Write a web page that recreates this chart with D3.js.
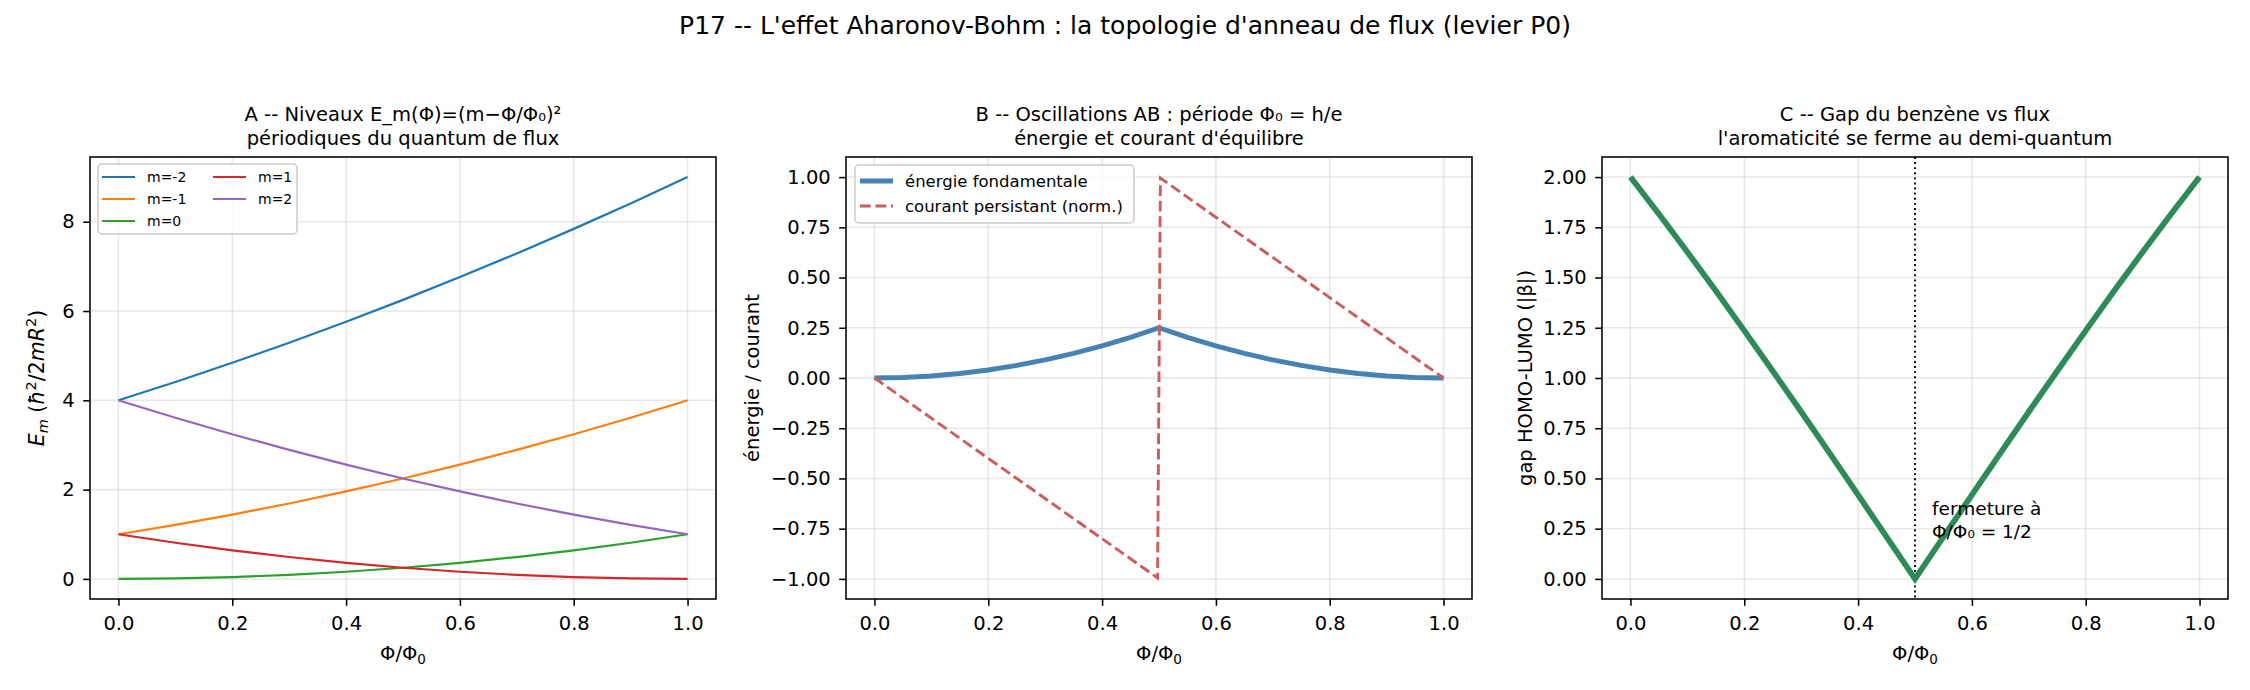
<!DOCTYPE html>
<html>
<head>
<meta charset="utf-8">
<script src="https://cdn.jsdelivr.net/npm/d3@7"></script>
<style>
  body { margin: 0; background: #fff; }
  svg { font-family: "DejaVu Sans", sans-serif; }
</style>
</head>
<body>
<div id="chart"></div>
<script>
// values
const phi = [0, 0.1, 0.2, 0.3, 0.4, 0.5, 0.6, 0.7, 0.8, 0.9, 1.0];
const levelMm2 = [4, 4.41, 4.84, 5.29, 5.76, 6.25, 6.76, 7.29, 7.84, 8.41, 9];
const levelMm1 = [1, 1.21, 1.44, 1.69, 1.96, 2.25, 2.56, 2.89, 3.24, 3.61, 4];
const levelM0 = [0, 0.01, 0.04, 0.09, 0.16, 0.25, 0.36, 0.49, 0.64, 0.81, 1];
const levelM1 = [1, 0.81, 0.64, 0.49, 0.36, 0.25, 0.16, 0.09, 0.04, 0.01, 0];
const levelM2 = [4, 3.61, 3.24, 2.89, 2.56, 2.25, 1.96, 1.69, 1.44, 1.21, 1];
const levelNames = ["m=-2", "m=-1", "m=0", "m=1", "m=2"];
const levelColors = ["#1f77b4", "#ff7f0e", "#2ca02c", "#d62728", "#9467bd"];

const phiFine = [0, 0.05, 0.1, 0.15, 0.2, 0.25, 0.3, 0.35, 0.4, 0.45, 0.5,
  0.55, 0.6, 0.65, 0.7, 0.75, 0.8, 0.85, 0.9, 0.95, 1.0];
const groundEnergy = [0, 0.0025, 0.01, 0.0225, 0.04, 0.0625, 0.09, 0.1225, 0.16, 0.2025, 0.25,
  0.2025, 0.16, 0.1225, 0.09, 0.0625, 0.04, 0.0225, 0.01, 0.0025, 0];
const currentPhi = [0, 0.4975, 0.5025, 1.0];
const currentNorm = [0, -0.995, 0.995, 0];

const gapBenzene = [2, 1.816, 1.627, 1.434, 1.236, 1.035, 0.832, 0.626, 0.418, 0.209, 0,
  0.209, 0.418, 0.626, 0.832, 1.035, 1.236, 1.434, 1.627, 1.816, 2];

const xTicks = [0, 0.2, 0.4, 0.6, 0.8, 1.0];
const yTicksA = [0, 2, 4, 6, 8];
const yTicksB = [-1, -0.75, -0.5, -0.25, 0, 0.25, 0.5, 0.75, 1];
const yTicksC = [0, 0.25, 0.5, 0.75, 1, 1.25, 1.5, 1.75, 2];

const W = 2250, H = 690;
const axTop = 157, axBottom = 599, axW = 626;
const fs = 19.5;

const svg = d3.select("#chart").append("svg")
  .attr("width", W)
  .attr("height", H)
  .style("background", "#fff");

svg.append("text")
  .attr("x", 1125)
  .attr("y", 34)
  .attr("text-anchor", "middle")
  .style("font-size", "25px")
  .text("P17 -- L'effet Aharonov-Bohm : la topologie d'anneau de flux (levier P0)");

function makePanel(left, yDomain, yTicks, yFmt, titles) {
  const x = d3.scaleLinear().domain([-0.05, 1.05]).range([left, left + axW]);
  const y = d3.scaleLinear().domain(yDomain).range([axBottom, axTop]);
  const g = svg.append("g");

  // grid
  g.append("g").selectAll("line").data(xTicks).join("line")
    .attr("x1", d => x(d)).attr("x2", d => x(d))
    .attr("y1", axTop).attr("y2", axBottom)
    .attr("stroke", "#b0b0b0").attr("stroke-opacity", 0.3).attr("stroke-width", 1.55);
  g.append("g").selectAll("line").data(yTicks).join("line")
    .attr("x1", left).attr("x2", left + axW)
    .attr("y1", d => y(d)).attr("y2", d => y(d))
    .attr("stroke", "#b0b0b0").attr("stroke-opacity", 0.3).attr("stroke-width", 1.55);

  const xAxis = g.append("g")
    .attr("transform", `translate(0,${axBottom})`)
    .call(d3.axisBottom(x).tickValues(xTicks).tickFormat(d3.format(".1f"))
      .tickSize(6.8).tickPadding(10));
  const yAxis = g.append("g")
    .attr("transform", `translate(${left},0)`)
    .call(d3.axisLeft(y).tickValues(yTicks).tickFormat(yFmt)
      .tickSize(6.8).tickPadding(8.5));
  [xAxis, yAxis].forEach(a => {
    a.select(".domain").remove();
    a.selectAll(".tick line").attr("stroke", "#000").attr("stroke-width", 1.55);
    a.selectAll(".tick text")
      .attr("fill", "#000")
      .style("font-size", fs + "px")
      .style("font-family", "DejaVu Sans");
  });

  // x label  Φ/Φ0
  const xl = g.append("text")
    .attr("x", left + axW / 2)
    .attr("y", 660)
    .attr("text-anchor", "middle")
    .style("font-size", fs + "px");
  xl.append("tspan").text("Φ/Φ");
  xl.append("tspan").attr("dy", 4).style("font-size", "13.5px").text("0");

  titles.forEach((t, i) => {
    g.append("text")
      .attr("x", left + axW / 2)
      .attr("y", 121 + i * 24)
      .attr("text-anchor", "middle")
      .style("font-size", fs + "px")
      .text(t);
  });

  const plot = g.append("g");
  const frame = () => g.append("rect")
    .attr("x", left).attr("y", axTop)
    .attr("width", axW).attr("height", axBottom - axTop)
    .attr("fill", "none").attr("stroke", "#000").attr("stroke-width", 1.55);

  return { x, y, g, plot, frame, left };
}

function legend(g, x0, y0, w, h, items, fsz) {
  g.append("rect")
    .attr("x", x0).attr("y", y0).attr("width", w).attr("height", h)
    .attr("rx", 4)
    .attr("fill", "#fff").attr("fill-opacity", 0.8)
    .attr("stroke", "#cccccc").attr("stroke-width", 1.5);
  items.forEach(it => {
    g.append("line")
      .attr("x1", it.hx).attr("x2", it.hx + 33)
      .attr("y1", it.y).attr("y2", it.y)
      .attr("stroke", it.color).attr("stroke-width", it.w)
      .attr("stroke-dasharray", it.dash || null);
    g.append("text")
      .attr("x", it.hx + 45).attr("y", it.y)
      .attr("dy", "0.36em")
      .style("font-size", fsz + "px")
      .text(it.label);
  });
}

// ---------- Panel A
const A = makePanel(90, [-0.45, 9.45], yTicksA, d3.format("d"),
  ["A -- Niveaux E_m(Φ)=(m−Φ/Φ₀)²", "périodiques du quantum de flux"]);
const lineA = d3.line().x((d, i) => A.x(phi[i])).y(d => A.y(d)).curve(d3.curveMonotoneX);
[levelMm2, levelMm1, levelM0, levelM1, levelM2].forEach((s, k) => {
  A.plot.append("path").datum(s)
    .attr("d", lineA)
    .attr("fill", "none")
    .attr("stroke", levelColors[k])
    .attr("stroke-width", 2.2);
});
A.frame();
{
  const yl = A.g.append("text")
    .attr("transform", `translate(44,${(axTop + axBottom) / 2}) rotate(-90)`)
    .attr("text-anchor", "middle")
    .style("font-size", "20.5px");
  yl.append("tspan").style("font-style", "italic").text("E");
  yl.append("tspan").style("font-style", "italic").style("font-size", "14.5px").attr("dy", 4).text("m");
  yl.append("tspan").attr("dy", -4).text(" (");
  yl.append("tspan").style("font-style", "italic").text("ħ");
  yl.append("tspan").style("font-size", "14.5px").attr("dy", -8).text("2");
  yl.append("tspan").attr("dy", 8).text("/2");
  yl.append("tspan").style("font-style", "italic").text("mR");
  yl.append("tspan").style("font-size", "14.5px").attr("dy", -8).text("2");
  yl.append("tspan").attr("dy", 8).text(")");
}
legend(A.g, 98, 164, 199, 70, levelNames.map((n, k) => ({
  label: n, color: levelColors[k], w: 2.2,
  hx: k < 3 ? 102 : 213,
  y: 177 + (k < 3 ? k : k - 3) * 22
})), 14);

// ---------- Panel B
const B = makePanel(846, [-1.1, 1.1], yTicksB, d3.format(".2f"),
  ["B -- Oscillations AB : période Φ₀ = h/e", "énergie et courant d'équilibre"]);
B.plot.append("path").datum(groundEnergy)
  .attr("d", d3.line().x((d, i) => B.x(phiFine[i])).y(d => B.y(d)))
  .attr("fill", "none").attr("stroke", "#4682b4").attr("stroke-width", 4.9)
  .attr("stroke-linejoin", "round");
B.plot.append("path").datum(currentNorm)
  .attr("d", d3.line().x((d, i) => B.x(currentPhi[i])).y(d => B.y(d)))
  .attr("fill", "none").attr("stroke", "#cd5c5c").attr("stroke-width", 2.9)
  .attr("stroke-dasharray", "10.8,4.7");
B.frame();
B.g.append("text")
  .attr("transform", `translate(759,${(axTop + axBottom) / 2}) rotate(-90)`)
  .attr("text-anchor", "middle")
  .style("font-size", fs + "px")
  .text("énergie / courant");
legend(B.g, 855, 165, 279, 58, [
  { label: "énergie fondamentale", color: "#4682b4", w: 4.9, hx: 860, y: 181 },
  { label: "courant persistant (norm.)", color: "#cd5c5c", w: 2.9, dash: "10.8,4.7", hx: 860, y: 206 }
], 16.5);

// ---------- Panel C
const C = makePanel(1602, [-0.1, 2.1], yTicksC, d3.format(".2f"),
  ["C -- Gap du benzène vs flux", "l'aromaticité se ferme au demi-quantum"]);
C.plot.append("line")
  .attr("x1", C.x(0.5)).attr("x2", C.x(0.5))
  .attr("y1", axTop).attr("y2", axBottom)
  .attr("stroke", "#000").attr("stroke-width", 1.9)
  .attr("stroke-dasharray", "1.9,3.2");
C.plot.append("path").datum(gapBenzene)
  .attr("d", d3.line().x((d, i) => C.x(phiFine[i])).y(d => C.y(d)))
  .attr("fill", "none").attr("stroke", "#2e8b57").attr("stroke-width", 5.8);
C.frame();
C.g.append("text")
  .attr("transform", `translate(1532,${(axTop + axBottom) / 2}) rotate(-90)`)
  .attr("text-anchor", "middle")
  .style("font-size", fs + "px")
  .text("gap HOMO-LUMO (|β|)");
C.g.append("text")
  .attr("x", C.x(0.53)).attr("y", 515)
  .style("font-size", "18.5px")
  .text("fermeture à");
C.g.append("text")
  .attr("x", C.x(0.53)).attr("y", 538)
  .style("font-size", "18.5px")
  .text("Φ/Φ₀ = 1/2");
</script>
</body>
</html>
